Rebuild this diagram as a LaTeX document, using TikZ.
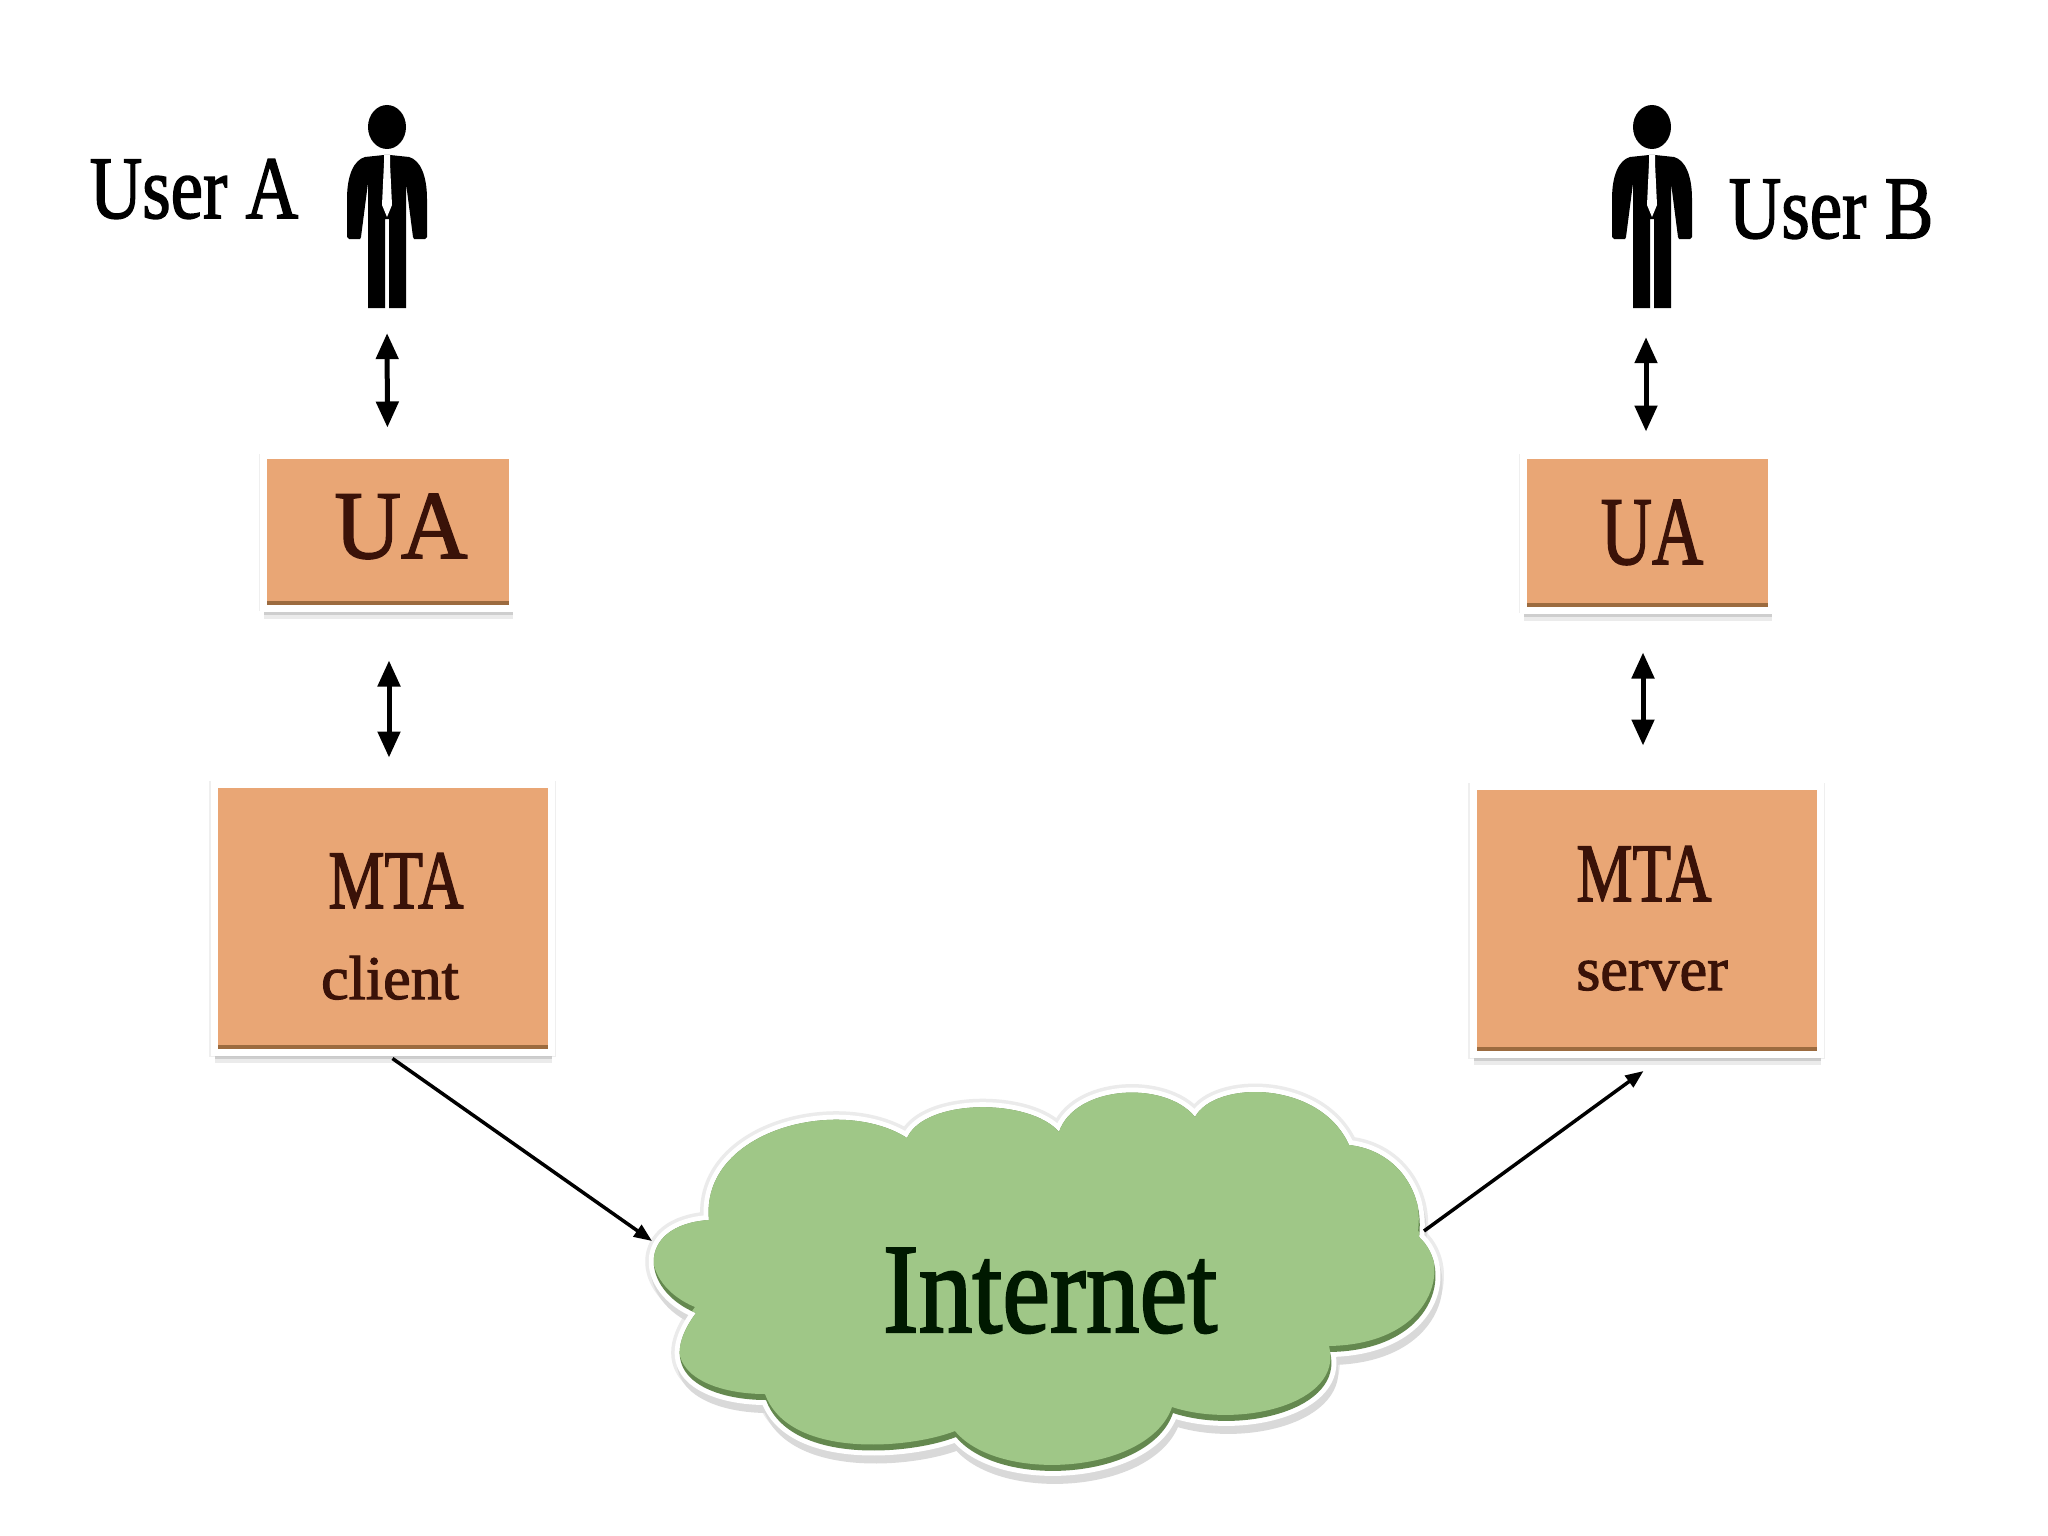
\documentclass[tikz,border=0pt]{standalone}
\usepackage{graphicx}
\usepackage{fontspec}
\setmainfont[FakeBold=1.8]{Liberation Serif}
\usetikzlibrary{arrows.meta,shadows}
\definecolor{boxfill}{HTML}{E9A675}
\definecolor{boxedge}{HTML}{9C6B3F}
\definecolor{boxtext}{HTML}{3A1208}
\definecolor{cloudfill}{HTML}{9FC787}
\definecolor{cloudedge}{HTML}{64884F}
\newcommand\cloudpath{(709,1220) .. controls (700,1130) and (840,1095) .. (907,1138)
 .. controls (925,1098) and (1030,1098) .. (1059,1132)
 .. controls (1075,1085) and (1165,1080) .. (1195,1117)
 .. controls (1215,1080) and (1320,1080) .. (1349,1145)
 .. controls (1395,1150) and (1425,1190) .. (1419,1237)
 .. controls (1455,1270) and (1435,1350) .. (1330,1352)
 .. controls (1345,1410) and (1240,1435) .. (1173,1413)
 .. controls (1150,1480) and (1000,1490) .. (956,1437)
 .. controls (910,1455) and (790,1465) .. (766,1400)
 .. controls (710,1400) and (650,1375) .. (696,1313)
 .. controls (640,1290) and (635,1225) .. (709,1220) -- cycle}
\tikzset{
  x=1pt,y=-1pt,
  procbox/.style={rectangle,fill=boxfill,draw=white,line width=7pt,inner sep=0pt,
    general shadow={shadow xshift=0pt,shadow yshift=-1pt,shadow scale=1.03,fill=black!10,opacity=.6},
    general shadow={shadow xshift=1pt,shadow yshift=-11pt,fill=black!15,opacity=.5},
    general shadow={shadow xshift=1pt,shadow yshift=-7pt,fill=black!30,opacity=.5},
    path picture={\fill[boxedge] ([yshift=7pt]path picture bounding box.south west) rectangle (path picture bounding box.south east);}},
  lab/.style={inner sep=0pt,anchor=base},
  twoway/.style={draw=black,line width=5pt,{Triangle[length=26pt,width=22pt]}-{Triangle[length=26pt,width=22pt]}},
  oneway/.style={draw=black,line width=3.5pt,-{Triangle[length=18pt,width=14pt]}},
  personsize/.style={inner sep=0pt,minimum width=78pt,minimum height=228pt},
  person/.pic={
    \fill[black] (0,0) ellipse[x radius=19pt,y radius=22pt];
    \fill[black] (-3,28) -- (-22,30) .. controls (-33,33) and (-40,48) .. (-40,72) -- (-40,110) -- (-38,112) -- (-27,112) -- (-26,110)
      -- (-19,56) -- (-19,181) -- (-2,181) -- (-2,92) -- (2,92) -- (2,181) -- (19,181) -- (19,56)
      -- (26,110) -- (27,112) -- (38,112) -- (40,110) -- (40,72) .. controls (40,48) and (33,33) .. (22,30) -- (3,28) -- cycle;
    \fill[white] (-3,28) -- (3,28) -- (3,36) -- (5,78) -- (0,90) -- (-5,78) -- (-3,36) -- cycle;
  },
}
\newcommand\fsz[1]{\fontsize{#1}{#1}\selectfont}
\begin{document}
\begin{tikzpicture}
\useasboundingbox (0,0) rectangle (2048,1536);
\fill[white] (0,0) rectangle (2048,1536);

% people
\node[personsize] (personA) at (387,194) {};
\pic at (387,127) {person};
\node[personsize] (personB) at (1652,194) {};
\pic at (1652,127) {person};
\node[lab] (userA) at (194,218) {\fsz{89}\scalebox{.82}[1]{User A}};
\node[lab] (userB) at (1831,238) {\fsz{89}\scalebox{.82}[1]{User B}};

% boxes
\node[procbox,minimum width=249pt,minimum height=153pt] (uaA) at (387.5,531.5) {};
\node[procbox,minimum width=248pt,minimum height=155pt] (uaB) at (1647,532.5) {};
\node[procbox,minimum width=337pt,minimum height=268pt] (mtaC) at (382.5,918) {};
\node[procbox,minimum width=347pt,minimum height=268pt] (mtaS) at (1646.5,920) {};

\node[lab,text=boxtext] (uaAt) at (401,558) {\fsz{97}\scalebox{.95}[1]{UA}};
\node[lab,text=boxtext] (uaBt) at (1652,564) {\fsz{97}\scalebox{.73}[1]{UA}};
\node[lab,text=boxtext] (mtaCt) at (396,908) {\fsz{83}\scalebox{.76}[1]{MTA}};
\node[lab,text=boxtext] (clientt) at (390,999) {\fsz{62}client};
\node[lab,text=boxtext] (mtaSt) at (1644,901) {\fsz{83}\scalebox{.76}[1]{MTA}};
\node[lab,text=boxtext] (servert) at (1652,990) {\fsz{62}server};

% cloud
\draw[black!8,line width=17pt,line join=round] \cloudpath;
\draw[black!15,line width=10pt,line join=round,shift={(2,8)}] \cloudpath;
\draw[white,line width=10pt,line join=round] \cloudpath;
\fill[cloudedge] \cloudpath;
\begin{scope}
  \clip \cloudpath;
  \fill[cloudfill,shift={(-1,-6)}] \cloudpath;
\end{scope}
\node[lab,text=black!90!green] (internet) at (1050,1332) {\fsz{128}\scalebox{.84}[1]{Internet}};
\coordinate (cloudIn) at (652,1241);
\coordinate (cloudOut) at (1424,1231);

% connectors
\draw[twoway,shorten <=25pt,shorten >=24pt] (personA.south) -- (uaA.north);
\draw[twoway,shorten <=49pt,shorten >=23pt] ([xshift=1.5pt]uaA.south) -- ([xshift=6.5pt]mtaC.north);
\draw[twoway,shorten <=29pt,shorten >=20pt] ([xshift=-6pt]personB.south) -- ([xshift=-1pt]uaB.north);
\draw[twoway,shorten <=39pt,shorten >=37pt] ([xshift=-4pt]uaB.south) -- ([xshift=-3.5pt]mtaS.north);
\draw[oneway] ([xshift=10pt,yshift=-3pt]mtaC.south) -- (cloudIn);
\draw[oneway] (cloudOut) -- ([xshift=-3pt,yshift=-13.5pt]mtaS.south);
\end{tikzpicture}
\end{document}
